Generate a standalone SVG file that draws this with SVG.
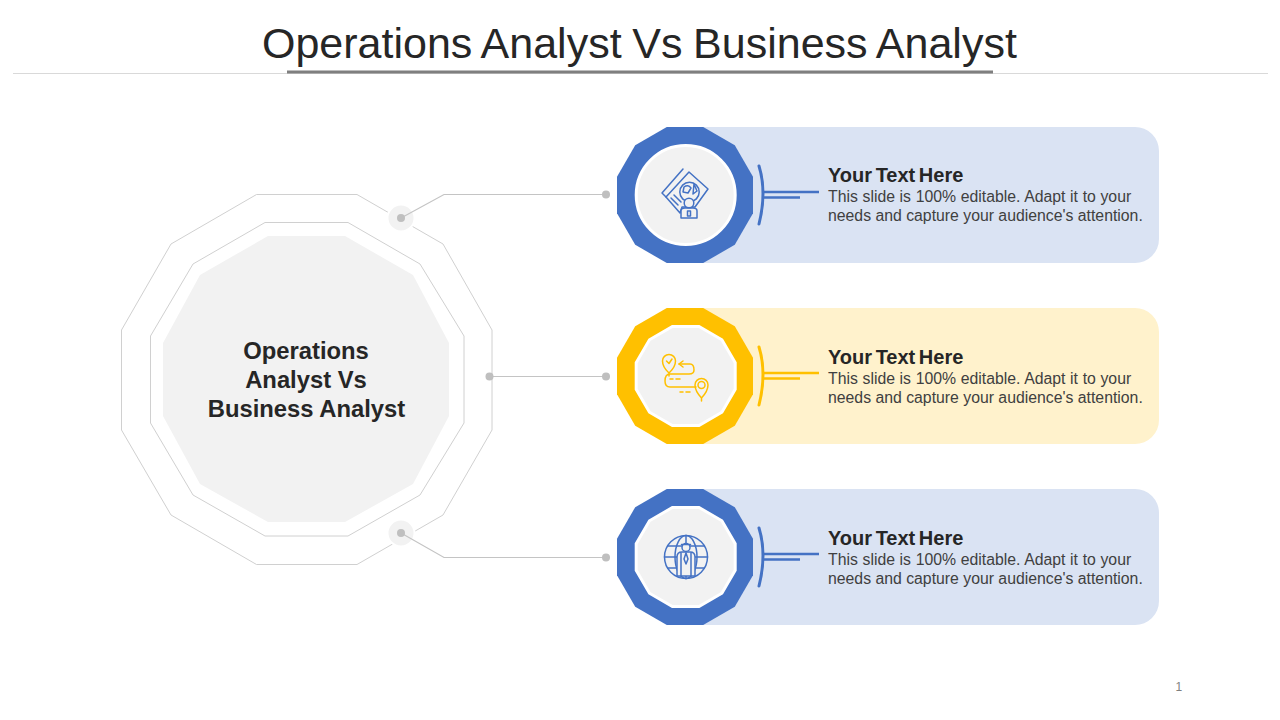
<svg xmlns="http://www.w3.org/2000/svg" width="1280" height="720" viewBox="0 0 1280 720">
<style>
text{font-family:"Liberation Sans",Arial,sans-serif}
.title{font-size:43px;fill:#262626;word-spacing:-1.300px}
.hub{font-size:23.800px;font-weight:700;fill:#262626;text-anchor:middle}
.head{font-size:20px;font-weight:700;fill:#262626;word-spacing:-2px}
.body{font-size:15.800px;fill:#404040}
.l1{word-spacing:.25px}
.ring{fill:none;stroke:#d0d0d0;stroke-width:1}
.conn{fill:none;stroke:#c4c4c4;stroke-width:1.2}
.dot{fill:#bfbfbf}
.halo{fill:#f2f2f2;stroke:#fff;stroke-width:2}
.face{fill:#f2f2f2;stroke:#fff;stroke-width:3}
.blue{stroke:#4472c4}.gold{stroke:#ffc000}
.br{fill:none;stroke-linecap:round;stroke-width:3}
.bl{fill:none;stroke-width:2.5}
.ic{fill:none;stroke-width:1.500;stroke-linejoin:round;stroke-linecap:round}
.mask{fill:#f2f2f2}
</style>
<defs>
<polygon id="d68" points="-18.2,-68 18.2,-68 49.8,-49.8 68,-18.2 68,18.2 49.8,49.8 18.2,68 -18.2,68 -49.8,49.8 -68,18.2 -68,-18.2 -49.8,-49.8"/>
<polygon id="d50" points="-13.3,-49.500 13.3,-49.500 36.2,-36.2 49.500,-13.3 49.500,13.3 36.2,36.2 13.3,49.500 -13.3,49.500 -36.2,36.2 -49.500,13.3 -49.500,-13.3 -36.2,-36.2"/>
<path id="card" d="M0,-68H450a24,24 0 0 1 24,24V44a24,24 0 0 1 -24,24H0Z"/>
<g id="bracket">
<path class="br" d="M74,-29Q82,-3 74,29"/>
<path class="bl" d="M78,-3H134M78,2.500H115"/>
</g>
</defs>
<rect width="1280" height="720" fill="#fff"/>
<g id="header">
<text class="title" x="262" y="57.500">Operations Analyst Vs Business Analyst</text>
<rect x="13" y="73" width="1255" height="1" fill="#d9d9d9"/>
<rect x="287" y="70.500" width="706" height="3" fill="#7f7f7f"/>
</g>
<g id="hub">
<polygon class="ring" points="256.500,194.500 357,194.500 443,244 492,330 492,430 443,515 357,564.500 256.500,564.500 171,515 121.500,430 121.500,330 171,244"/>
<polygon class="ring" points="265,222.500 348,222.500 420,264 464,336 464,423 420,495 348,536 265,536 193,495 150.500,423 150.500,336 193,264"/>
<polygon fill="#f2f2f2" points="268,236 345,236 413,275 449,343 449,416 413,484 345,522 268,522 200,484 163,416 163,343 200,275"/>
<circle class="halo" cx="401" cy="218" r="13.500"/>
<circle class="halo" cx="401" cy="533" r="13.500"/>
<text class="hub" x="306" y="359">Operations</text>
<text class="hub" x="306" y="388">Analyst Vs</text>
<text class="hub" x="306.500" y="417">Business Analyst</text>
</g>
<g id="connectors">
<path class="conn" d="M401,218L444,194.500H606"/>
<path class="conn" d="M489.500,376.500H606"/>
<path class="conn" d="M401,533L444,557.500H606"/>
<circle class="dot" cx="401" cy="218" r="4"/>
<circle class="dot" cx="606" cy="194.500" r="4"/>
<circle class="dot" cx="489.500" cy="376.500" r="4"/>
<circle class="dot" cx="606" cy="376.500" r="4"/>
<circle class="dot" cx="401" cy="533" r="4"/>
<circle class="dot" cx="606" cy="557.500" r="4"/>
</g>
<g id="node1" transform="translate(685,195)">
<use href="#card" fill="#dae3f3"/>
<use href="#d68" fill="#4472c4"/>
<circle class="face" cx=".7" r="49.500"/>
<use href="#bracket" class="blue"/>
<g class="ic blue">
<path d="M-2,-26L-23,-2L-19,2"/>
<path class="mask" d="M4,-23L23,-6L10,12H-3L-5,18L-19,2Z"/>
<path d="M-14,3L-7,10M-11,0L-4,7"/>
<circle cx="4.500" cy="-3" r="9.700"/>
<path d="M-1,-8Q3,-11 6,-7L3,-2L-2,-3ZM9,-11L12,-4L8,-1Z"/>
<path class="mask" d="M-4,23V16Q-4,13 0,13H8Q12,13 12,16V23Z"/>
<circle class="mask" cx="4" cy="8" r="4.800"/>
<path d="M2.500,16H5.500V21H2.500Z"/>
</g>
<text class="head" x="143" y="-13">Your Text Here</text>
<text class="body l1" x="143" y="7">This slide is 100% editable. Adapt it to your</text>
<text class="body" x="143" y="26">needs and capture your audience's attention.</text>
</g>
<g id="node2" transform="translate(685,376)">
<use href="#card" fill="#fff2cc"/>
<use href="#d68" fill="#ffc000"/>
<use href="#d50" class="face" x=".7"/>
<use href="#bracket" class="gold"/>
<g class="ic gold">
<path d="M-16,-3Q-22.500,-9 -22.500,-15A6.500,6.500 0 0 1 -9.500,-15Q-9.500,-9 -16,-3ZM-16,-3V0"/>
<path d="M-18.500,-15L-16,-12.500L-13,-17"/>
<path d="M-6,-12H5Q9,-12 9,-6Q9,-2 4,-2H-15Q-20,-2 -20,5Q-20,11 -15,11H11"/>
<path d="M-2,-15L-6,-12L-2,-9M-15,3H-12M-9,3H-5M-5,16H-2M1,16H5"/>
<path d="M16.500,22Q10,15 10,9A6.500,6.500 0 0 1 23,9Q23,15 16.500,22ZM16.500,22V25"/>
<circle cx="16.500" cy="9" r="3.500"/>
</g>
<text class="head" x="143" y="-12">Your Text Here</text>
<text class="body l1" x="143" y="8">This slide is 100% editable. Adapt it to your</text>
<text class="body" x="143" y="27">needs and capture your audience's attention.</text>
</g>
<g id="node3" transform="translate(685,557)">
<use href="#card" fill="#dae3f3"/>
<use href="#d68" fill="#4472c4"/>
<use href="#d50" class="face" x=".7"/>
<use href="#bracket" class="blue"/>
<g class="ic blue">
<circle cx="1" cy="0" r="21.500"/>
<ellipse cx="1" cy="0" rx="11" ry="21.500"/>
<path d="M-20.500,0H22.500M-17,-11H19M-17,11H19M1,-21.500V21.500"/>
<path class="mask" d="M-8,19V0Q-8,-5 -3,-5H5Q10,-5 10,0V19Z"/>
<path d="M-4,-4V19M6,-4V19M1,-4L-1,2L1,7L3,2Z"/>
<circle class="mask" cx="1" cy="-9.500" r="4"/>
<path d="M-3.500,-12.500H5.500"/>
</g>
<text class="head" x="143" y="-12">Your Text Here</text>
<text class="body l1" x="143" y="8">This slide is 100% editable. Adapt it to your</text>
<text class="body" x="143" y="27">needs and capture your audience's attention.</text>
</g>
<text x="1175.500" y="691" font-size="12" fill="#7f7f7f">1</text>
</svg>
